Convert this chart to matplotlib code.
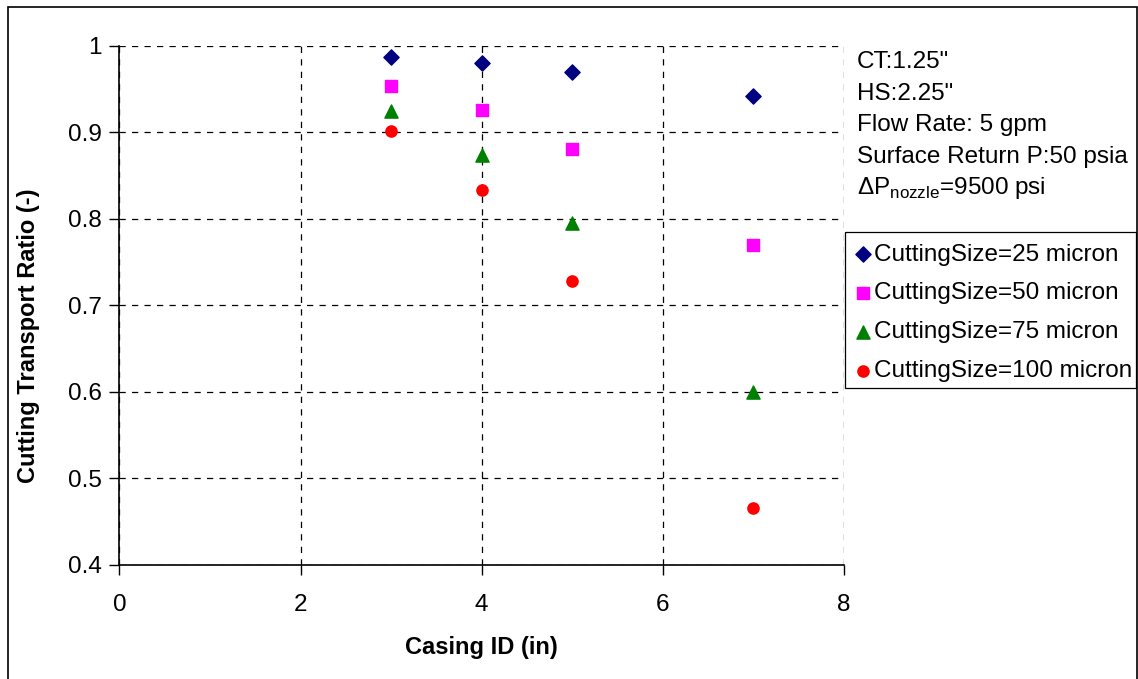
import matplotlib
matplotlib.use("Agg")
import matplotlib.pyplot as plt
from matplotlib.patches import Rectangle

plt.rcParams['font.family'] = ['Liberation Sans', 'DejaVu Sans']
plt.rcParams['mathtext.fontset'] = 'custom'
plt.rcParams['mathtext.rm'] = 'Liberation Sans'

# data
casing_id = [3, 4, 5, 7]
ratio_25 = [0.987, 0.980, 0.970, 0.942]
ratio_50 = [0.954, 0.926, 0.881, 0.770]
ratio_75 = [0.925, 0.874, 0.795, 0.600]
ratio_100 = [0.901, 0.833, 0.728, 0.466]
labels = ["CuttingSize=25 micron", "CuttingSize=50 micron",
          "CuttingSize=75 micron", "CuttingSize=100 micron"]
notes = ['CT:1.25"', 'HS:2.25"', 'Flow Rate: 5 gpm',
         'Surface Return P:50 psia', r'ΔP$_{\mathrm{nozzle}}$=9500 psi']

fig = plt.figure(figsize=(11.38, 6.79), dpi=100)
ax = fig.add_axes([0.105, 0.168, 0.6365, 0.7645])

ax.scatter(casing_id, ratio_25, marker='D', s=60, color='#000080', label=labels[0], zorder=3)
ax.scatter(casing_id, ratio_50, marker='s', s=65, color='#FF00FF', label=labels[1], zorder=3)
ax.scatter(casing_id, ratio_75, marker='^', s=90, color='#008000', label=labels[2], zorder=3)
ax.scatter(casing_id, ratio_100, marker='o', s=65, color='#FF0000', label=labels[3], zorder=3)

ax.set_xlim(0, 8)
ax.set_ylim(0.4, 1)
ax.set_xticks([0, 2, 4, 6, 8])
ax.set_yticks([0.4, 0.5, 0.6, 0.7, 0.8, 0.9, 1.0])
ax.set_yticklabels(['0.4', '0.5', '0.6', '0.7', '0.8', '0.9', '1'])
ax.tick_params(labelsize=17.5, length=7, width=1, color='black', direction='out', pad=6)
ax.tick_params(axis='x', pad=14)
ax.grid(True, color='black', linestyle=(0, (5, 5)), linewidth=0.9)
ax.set_axisbelow(True)
ax.spines['top'].set_visible(False)
ax.spines['right'].set_visible(False)
ax.spines['left'].set_linewidth(1.2)
ax.spines['bottom'].set_linewidth(1.2)

ax.set_xlabel('Casing ID (in)', fontsize=17, fontweight='bold', labelpad=14)
ax.set_ylabel('Cutting Transport Ratio (-)', fontsize=17, fontweight='bold', labelpad=20)
ax.yaxis.label.set_y(0.441)

# annotation block on the right
for i, t in enumerate(notes):
    fig.text(0.753, 1 - (62 + i * 31.5) / 679, t, fontsize=17.5, va='center', ha='left')

leg = fig.legend(loc='upper left', bbox_to_anchor=(0.7425, 0.659), fontsize=17.5,
                 frameon=False, handletextpad=0.25, handlelength=0.45, borderpad=0.5,
                 labelspacing=0.69, borderaxespad=0, scatterpoints=1)

# legend box drawn by hand so it fits inside the chart frame
fig.patches.append(Rectangle((0.7425, 0.4286), 0.2557, 0.2297, transform=fig.transFigure,
                             fill=False, edgecolor='black', linewidth=0.9))

# outer chart frame
fig.patches.append(Rectangle((0.007, -0.05), 0.992, 1.04, transform=fig.transFigure,
                             fill=False, edgecolor='black', linewidth=1.2))

fig.savefig('out.png', dpi=100)
